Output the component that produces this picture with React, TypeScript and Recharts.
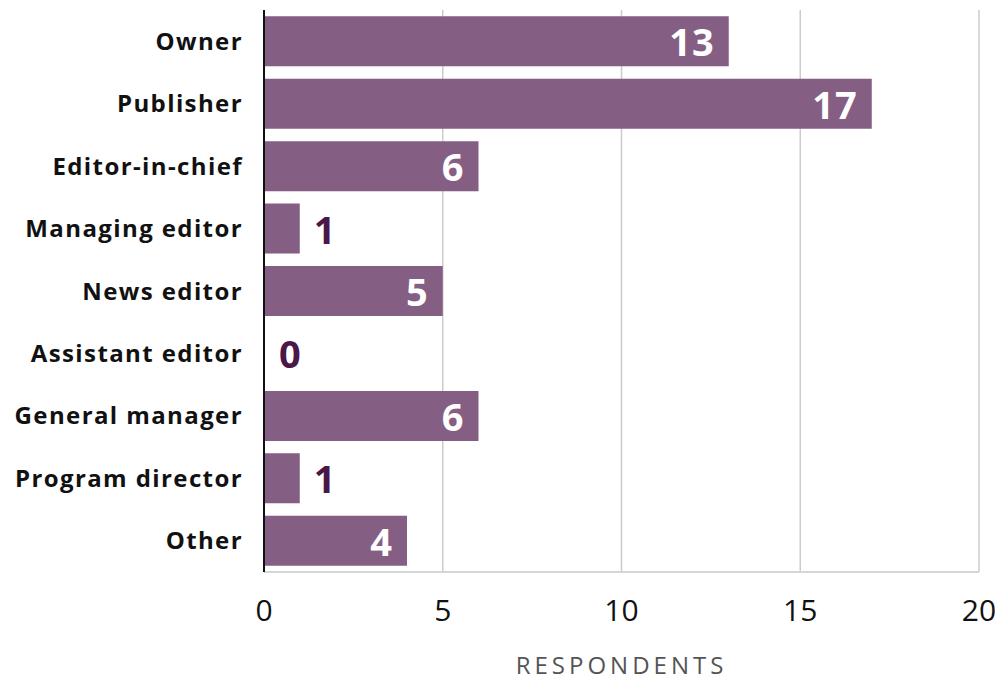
import React from "react";
import { BarChart, Bar, XAxis, YAxis, CartesianGrid, LabelList, Label } from "recharts";

const categories = [
  "Owner",
  "Publisher",
  "Editor-in-chief",
  "Managing editor",
  "News editor",
  "Assistant editor",
  "General manager",
  "Program director",
  "Other",
];
const respondents = [13, 17, 6, 1, 5, 0, 6, 1, 4];
const xTicks = [0, 5, 10, 15, 20];

const data = categories.map((c, i) => ({ role: c, value: respondents[i] }));

const FONT = "'Open Sans', 'DejaVu Sans', sans-serif";
const BAR = "#855e84";
const DARK = "#4a1748";

const ValueLabel = (props: any) => {
  const { x, y, width, height, value } = props;
  const inside = value >= 3;
  const cy = y + height / 2;
  return (
    <text
      x={inside ? x + width - 14 : x + width + 14}
      y={cy}
      textAnchor={inside ? "end" : "start"}
      dominantBaseline="central"
      fill={inside ? "#ffffff" : DARK}
      fontFamily={FONT}
      fontWeight={700}
      fontSize={38}
      style={{ letterSpacing: 1 }}
    >
      {value}
    </text>
  );
};

export default function App() {
  return (
    <div style={{ width: 995, height: 675 }}>
      <BarChart
        width={995}
        height={675}
        data={data}
        layout="vertical"
        margin={{ top: 2, right: 24, bottom: 0, left: 0 }}
        barCategoryGap="10%"
      >
        <CartesianGrid horizontal={false} vertical={true} stroke="#cccccc" strokeWidth={1.5} />
        <XAxis
          type="number"
          domain={[0, 20]}
          ticks={xTicks}
          height={111}
          axisLine={{ stroke: "#d6d6d6", strokeWidth: 2 }}
          tickLine={false}
          tickSize={0}
          tickMargin={28}
          tick={{ fill: "#111111", fontFamily: FONT, fontSize: 30 }}
        >
          <Label
            value="RESPONDENTS"
            position="insideBottom"
            offset={9}
            fill="#555555"
            fontFamily={FONT}
            fontSize={24}
            style={{ letterSpacing: 4 }}
          />
        </XAxis>
        <YAxis
          type="category"
          dataKey="role"
          width={256}
          axisLine={{ stroke: "#111111", strokeWidth: 2 }}
          tickLine={false}
          tickSize={0}
          tickMargin={21}
          tick={{ fill: "#111111", fontFamily: FONT, fontSize: 24, fontWeight: 700, style: { letterSpacing: 1.4 } } as any}
        />
        <Bar dataKey="value" fill={BAR} isAnimationActive={false} minPointSize={1}>
          <LabelList dataKey="value" content={ValueLabel} />
        </Bar>
      </BarChart>
    </div>
  );
}
